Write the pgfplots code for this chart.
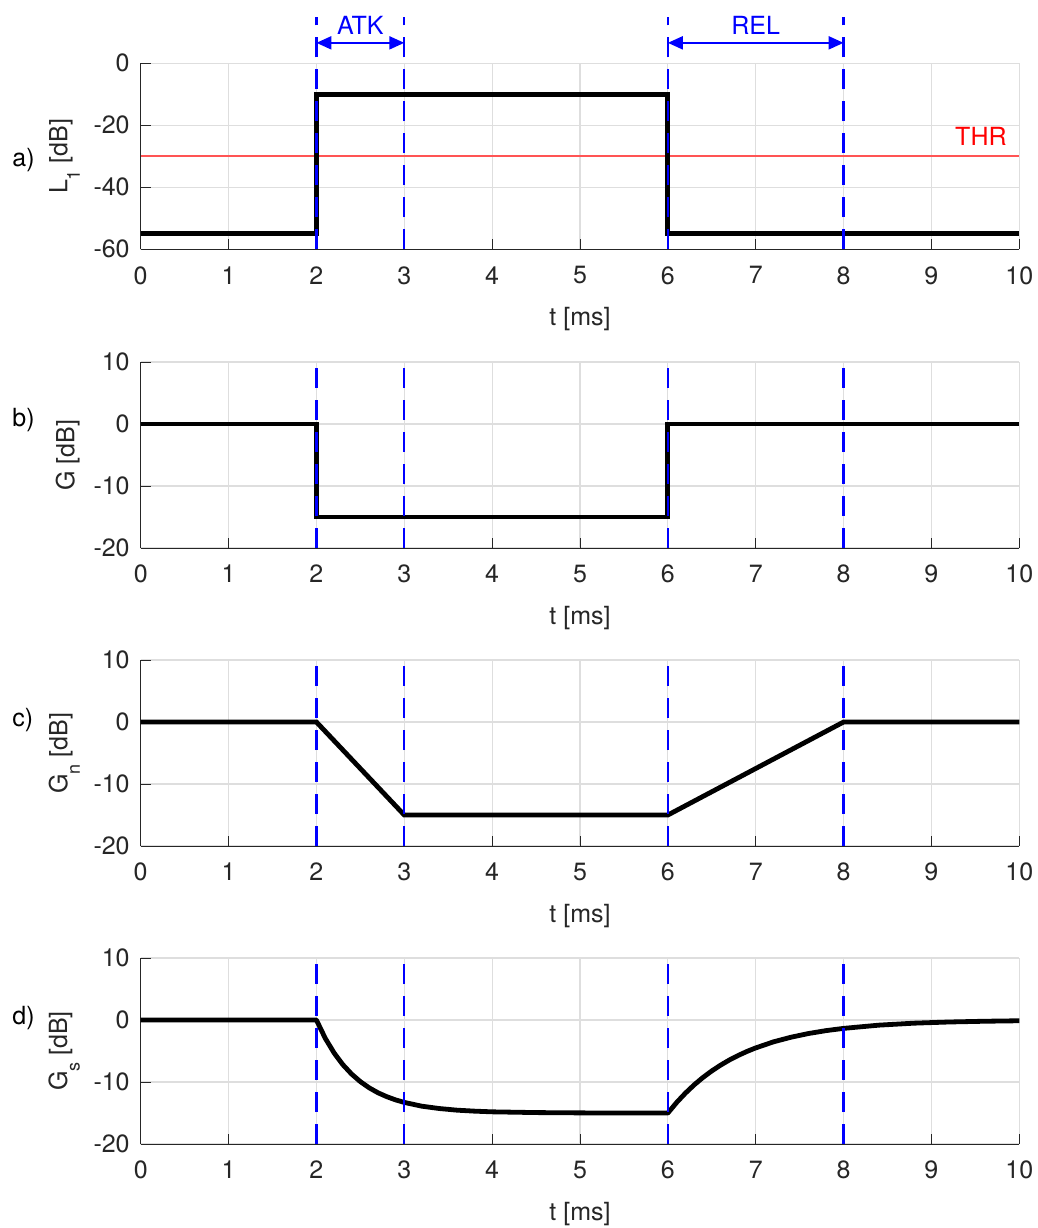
\documentclass[border=0pt]{standalone}
\usepackage{pgfplots}
\pgfplotsset{compat=1.18}
\usepackage{fontspec}
\setmainfont{TeX Gyre Heros}
\usetikzlibrary{arrows.meta}
\definecolor{axgray}{rgb}{0.15,0.15,0.15}
\definecolor{gridgray}{rgb}{0.87,0.87,0.87}
\definecolor{thrred}{rgb}{1,0.33,0.33}
\newcommand{\fs}{\fontsize{12.5}{15}\selectfont}
\newcommand{\sub}[1]{\raisebox{-0.5em}{\fontsize{9}{10}\selectfont #1}}
\pgfplotsset{
  myax/.style={
    at={(70.35pt,#1)}, anchor=south west,
    scale only axis, width=439.3pt, height=93pt,
    xmin=0, xmax=10, xtick={0,1,...,10},
    axis x line*=bottom, axis y line*=left,
    axis line style={draw=axgray, line width=0.5pt, -},
    tick align=inside, major tick length=5pt,
    tick style={draw=axgray, line width=0.5pt},
    grid=major, major grid style={draw=gridgray, line width=0.6pt},
    tick label style={font=\fs, text=axgray},
    /pgf/number format/assume math mode=true,
    xticklabel style={yshift=-5pt},
    yticklabel style={xshift=-2pt},
    label style={font=\fs, text=axgray},
    xlabel={t [ms]},
    xlabel style={yshift=-4.5pt},
    clip=false,
  },
  blk/.style={black, line width=2.4pt, line join=miter},
  bdash/.style={blue, line width=1.15pt, dash pattern=on 10pt off 6pt},
}
\begin{document}
\begin{tikzpicture}
\useasboundingbox (0pt,0pt) rectangle (519pt,-614pt);
% a)
\begin{axis}[myax={-124.65pt}, ymin=-60, ymax=0, ytick={-60,-40,-20,0},
  ylabel={L\sub{1} [dB]}]
\addplot[thrred, line width=1pt] coordinates {(0,-30) (10,-30)};
\addplot[blk] coordinates {(0,-55) (2,-55) (2,-10) (6,-10) (6,-55) (10,-55)};
\addplot[bdash] coordinates {(2,-60) (2,15)};
\addplot[bdash] coordinates {(3,-60) (3,15)};
\addplot[bdash] coordinates {(6,-60) (6,15)};
\addplot[bdash] coordinates {(8,-60) (8,15)};
\draw[blue, line width=1.1pt, {Triangle[length=7.5pt,width=6.5pt]}-{Triangle[length=7.5pt,width=6.5pt]}] (axis cs:2,6.6) -- (axis cs:3,6.6);
\draw[blue, line width=1.1pt, {Triangle[length=7.5pt,width=6.5pt]}-{Triangle[length=7.5pt,width=6.5pt]}] (axis cs:6,6.6) -- (axis cs:8,6.6);
\node[blue, font=\fs] at (axis cs:2.5,12.2) {ATK};
\node[blue, font=\fs] at (axis cs:7,12.2) {REL};
\node[red, font=\fs, anchor=east, inner sep=0pt] at (axis cs:9.86,-23.5) {THR};
\end{axis}
% b)
\begin{axis}[myax={-274pt}, ymin=-20, ymax=10, ytick={-20,-10,0,10},
  ylabel={G [dB]}]
\addplot[blk] coordinates {(0,0) (2,0) (2,-15) (6,-15) (6,0) (10,0)};
\addplot[bdash] coordinates {(2,-20) (2,9)};
\addplot[bdash] coordinates {(3,-20) (3,9)};
\addplot[bdash] coordinates {(6,-20) (6,9)};
\addplot[bdash] coordinates {(8,-20) (8,9)};
\end{axis}
% c)
\begin{axis}[myax={-423pt}, ymin=-20, ymax=10, ytick={-20,-10,0,10},
  ylabel={G\sub{n} [dB]}]
\addplot[blk] coordinates {(0,0) (2,0) (3,-15) (6,-15) (8,0) (10,0)};
\addplot[bdash] coordinates {(2,-20) (2,9)};
\addplot[bdash] coordinates {(3,-20) (3,9)};
\addplot[bdash] coordinates {(6,-20) (6,9)};
\addplot[bdash] coordinates {(8,-20) (8,9)};
\end{axis}
% d)
\begin{axis}[myax={-572pt}, ymin=-20, ymax=10, ytick={-20,-10,0,10},
  ylabel={G\sub{s} [dB]}]
\addplot[blk, line join=round] coordinates {
(0,0) (2,0) (2.1,-2.93) (2.2,-5.29) (2.3,-7.19) (2.4,-8.71) (2.5,-9.94)
(2.6,-10.93) (2.7,-11.73) (2.8,-12.36) (2.9,-12.88) (3.0,-13.29)
(3.2,-13.90) (3.4,-14.28) (3.6,-14.54) (3.8,-14.70) (4.0,-14.81)
(4.5,-14.93) (5.0,-14.98) (5.5,-14.99) (6.0,-15.0)
(6.1,-13.30) (6.2,-11.79) (6.3,-10.45) (6.4,-9.26) (6.5,-8.21)
(6.6,-7.28) (6.7,-6.45) (6.8,-5.72) (6.9,-5.07) (7.0,-4.50)
(7.2,-3.53) (7.4,-2.78) (7.6,-2.18) (7.8,-1.71) (8.0,-1.35)
(8.4,-0.83) (8.8,-0.51) (9.2,-0.32) (9.6,-0.20) (10.0,-0.12)};
\addplot[bdash] coordinates {(2,-20) (2,9)};
\addplot[bdash] coordinates {(3,-20) (3,9)};
\addplot[bdash] coordinates {(6,-20) (6,9)};
\addplot[bdash] coordinates {(8,-20) (8,9)};
\end{axis}
\node[anchor=west, font=\fs, inner sep=0pt] at (6pt,-80pt) {a)};
\node[anchor=west, font=\fs, inner sep=0pt] at (6pt,-210pt) {b)};
\node[anchor=west, font=\fs, inner sep=0pt] at (6pt,-360pt) {c)};
\node[anchor=west, font=\fs, inner sep=0pt] at (6pt,-509pt) {d)};
\end{tikzpicture}
\end{document}
